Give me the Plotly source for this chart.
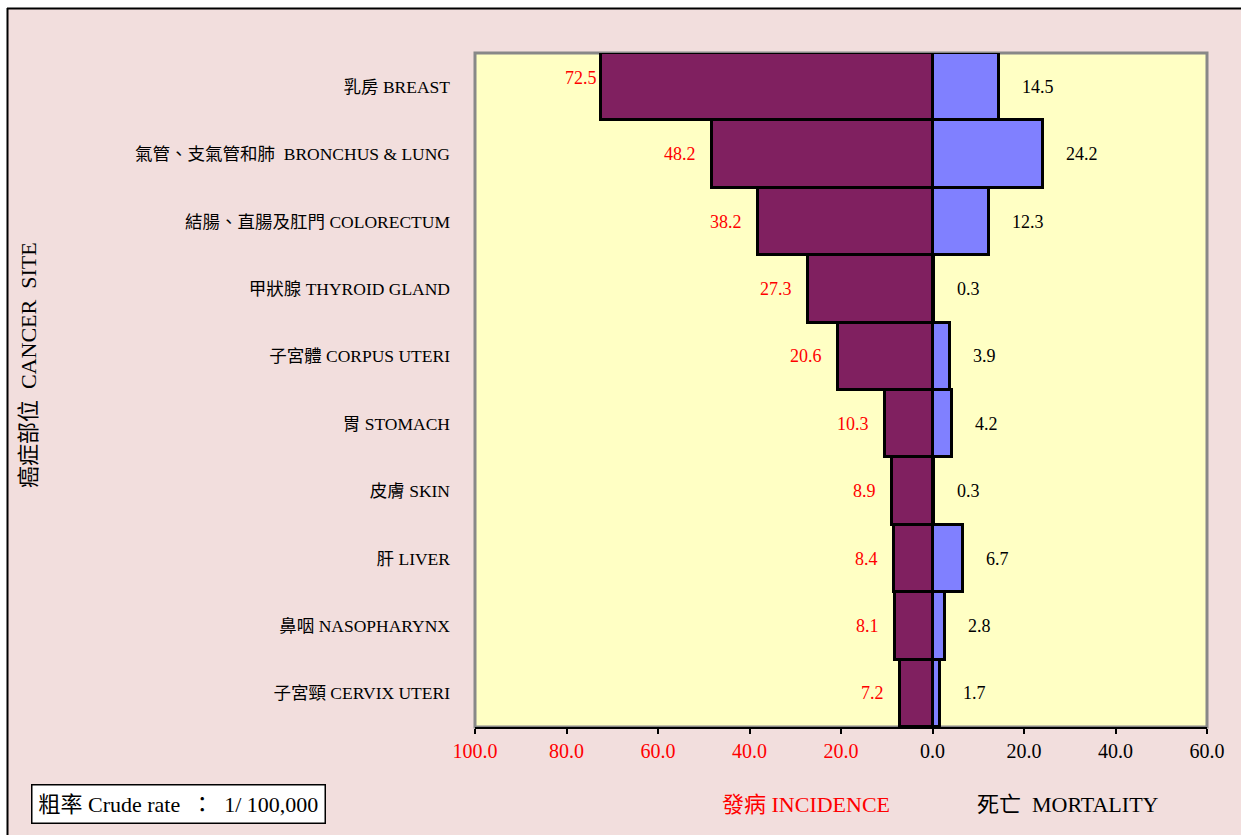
import plotly.graph_objects as go

# Crude rates per 100,000 by cancer site
sites = [
    "乳房 BREAST",
    "氣管、支氣管和肺  BRONCHUS & LUNG",
    "結腸、直腸及肛門 COLORECTUM",
    "甲狀腺 THYROID GLAND",
    "子宮體 CORPUS UTERI",
    "胃 STOMACH",
    "皮膚 SKIN",
    "肝 LIVER",
    "鼻咽 NASOPHARYNX",
    "子宮頸 CERVIX UTERI",
]
incidence = [72.5, 48.2, 38.2, 27.3, 20.6, 10.3, 8.9, 8.4, 8.1, 7.2]
mortality = [14.5, 24.2, 12.3, 0.3, 3.9, 4.2, 0.3, 6.7, 2.8, 1.7]
x_ticks = [-100, -80, -60, -40, -20, 0, 20, 40, 60]

W, H = 1241, 835
ML, MR, MT, MB = 475, 34, 53, 108
PW, PH = W - ML - MR, H - MT - MB

SERIF = "Liberation Serif, 'Times New Roman', 'Noto Sans CJK TC', serif"
PINK = "#F2DEDD"
RED = "#FF0000"


def px_x(px):
    return (px - ML) / PW


def px_y(py):
    return (H - MB - py) / PH


fig = go.Figure()
fig.add_trace(go.Bar(
    y=sites, x=[-v for v in incidence], orientation="h", name="發病 INCIDENCE",
    marker=dict(color="#802060", line=dict(color="black", width=3)),
    hoverinfo="skip",
))
fig.add_trace(go.Bar(
    y=sites, x=mortality, orientation="h", name="死亡 MORTALITY",
    marker=dict(color="#8080FF", line=dict(color="black", width=3)),
    hoverinfo="skip",
))

annotations = []
for i, (site, v) in enumerate(zip(sites, incidence)):
    dx, dy = (-2, 9) if i == 0 else (-14, 0)
    annotations.append(dict(
        x=-v, y=site, xref="x", yref="y", text=f"{v:.1f}", showarrow=False,
        xanchor="right", yanchor="middle", xshift=dx, yshift=dy,
        font=dict(family=SERIF, size=18, color=RED),
    ))
for site, v in zip(sites, mortality):
    annotations.append(dict(
        x=v, y=site, xref="x", yref="y", text=f"{v:.1f}", showarrow=False,
        xanchor="left", yanchor="middle", xshift=21,
        font=dict(family=SERIF, size=18, color="black"),
    ))

# axis title and footer texts
annotations += [
    dict(x=px_x(28), y=px_y(365), xref="paper", yref="paper",
         text="癌症部位  CANCER  SITE", textangle=-90, showarrow=False,
         xanchor="center", yanchor="middle",
         font=dict(family=SERIF, size=22, color="black")),
    dict(x=px_x(806), y=px_y(804), xref="paper", yref="paper",
         text="發病 INCIDENCE", showarrow=False, xanchor="center", yanchor="middle",
         font=dict(family=SERIF, size=22, color=RED)),
    dict(x=px_x(1068), y=px_y(804), xref="paper", yref="paper",
         text="死亡  MORTALITY", showarrow=False, xanchor="center", yanchor="middle",
         font=dict(family=SERIF, size=22, color="black")),
    dict(x=px_x(178), y=px_y(804), xref="paper", yref="paper",
         text="粗率 Crude rate  ：  1/ 100,000", showarrow=False,
         xanchor="center", yanchor="middle", bgcolor="white",
         bordercolor="black", borderwidth=1.5, borderpad=6,
         font=dict(family=SERIF, size=22, color="black")),
]

tick_text = []
for t in x_ticks:
    color = RED if t < 0 else "black"
    tick_text.append(f'<span style="color:{color}">{abs(t):.1f}</span>')

shapes = [
    # white margin strips and black frame edges of the chart area
    dict(type="rect", xref="paper", yref="paper", x0=px_x(-5), x1=px_x(W + 5),
         y0=px_y(8), y1=px_y(-5), fillcolor="white", line=dict(width=0), layer="below"),
    dict(type="rect", xref="paper", yref="paper", x0=px_x(-5), x1=px_x(7),
         y0=px_y(H + 5), y1=px_y(-5), fillcolor="white", line=dict(width=0), layer="below"),
    dict(type="line", xref="paper", yref="paper", x0=px_x(7), x1=px_x(W + 5),
         y0=px_y(8.5), y1=px_y(8.5), line=dict(color="black", width=2), layer="below"),
    dict(type="line", xref="paper", yref="paper", x0=px_x(7.5), x1=px_x(7.5),
         y0=px_y(8), y1=px_y(H + 5), line=dict(color="black", width=2), layer="below"),
    # grey plot-area frame
    dict(type="rect", xref="paper", yref="paper", x0=0, x1=1, y0=0, y1=1,
         line=dict(color="#888888", width=3), fillcolor="rgba(0,0,0,0)", layer="below"),
]

fig.update_layout(
    width=W, height=H,
    margin=dict(l=ML, r=MR, t=MT, b=MB, pad=0),
    paper_bgcolor=PINK, plot_bgcolor="#FFFFC4",
    barmode="relative", bargap=0,
    showlegend=False,
    annotations=annotations,
    shapes=shapes,
    font=dict(family=SERIF, color="black"),
    xaxis=dict(
        range=[-100, 60], tickvals=x_ticks, ticktext=tick_text,
        showgrid=False, zeroline=False,
        showline=True, linecolor="black", linewidth=2,
        ticks="outside", ticklen=5, tickwidth=1.5, tickcolor="black",
        tickfont=dict(family=SERIF, size=20),
    ),
    yaxis=dict(
        type="category", autorange="reversed",
        showgrid=False, zeroline=False, showline=False, ticks="",
        ticklabelstandoff=24,
        tickfont=dict(family=SERIF, size=17.5, color="black"),
    ),
)

fig.write_html("out.html")
